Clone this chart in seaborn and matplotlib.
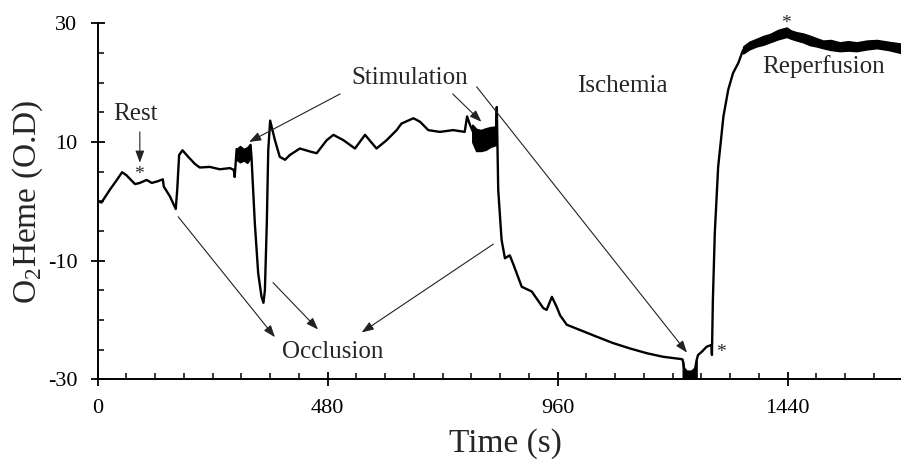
import matplotlib
matplotlib.use("Agg")
import matplotlib.pyplot as plt
import numpy as np
import pandas as pd
import seaborn as sns
from matplotlib.ticker import MultipleLocator

# main trace (time in s, O2Heme in O.D)
TIME = [0, 8, 25, 40, 51, 60, 78, 88, 102, 113, 126, 136, 138, 151, 163, 166,
        170, 177, 189, 203, 213, 234, 255, 276, 284, 286, 290, 297, 307, 319,
        321, 328, 335, 342, 346, 349, 353, 356, 360, 370, 380, 391, 401, 422,
        443, 457, 478, 492, 513, 537, 558, 582, 603, 624, 634, 659, 673, 690,
        714, 742, 766, 771, 777, 790, 805, 820, 831, 833, 836, 843, 850, 860,
        867, 885, 906, 930, 937, 948, 958, 965, 979, 1007, 1041, 1076, 1111,
        1146, 1180, 1219, 1221, 1224, 1230, 1240, 1247, 1250, 1253, 1261, 1271,
        1281, 1282, 1284, 1288, 1295, 1306, 1316, 1326, 1337, 1347, 1375, 1403,
        1438, 1459, 1487, 1514, 1549, 1584, 1626, 1676]
HEME = [0.0, -0.2, 1.9, 3.6, 4.9, 4.4, 2.9, 3.1, 3.6, 3.1, 3.4, 3.7, 2.5, 0.8,
        -1.3, 1.9, 7.8, 8.6, 7.5, 6.3, 5.7, 5.8, 5.4, 5.6, 5.3, 4.1, 8.8, 7.8,
        7.3, 9.5, 7.5, -3.7, -12.1, -16.1, -17.1, -15.0, -3.7, 8.6, 13.6, 10.3,
        7.5, 7.0, 7.8, 8.9, 8.4, 8.1, 10.3, 11.2, 10.3, 8.9, 11.2, 8.9, 10.3,
        12.0, 13.1, 14.0, 13.4, 12.0, 11.7, 12.0, 11.7, 14.3, 12.9, 10.5, 10.3,
        10.8, 11.0, 15.9, 1.9, -6.5, -9.6, -9.1, -10.5, -14.4, -15.2, -18.0,
        -18.3, -16.1, -17.8, -19.2, -20.8, -21.7, -22.8, -23.9, -24.8, -25.6,
        -26.2, -26.6, -26.7, -28.2, -28.7, -28.7, -28.2, -26.8, -25.9, -25.35,
        -24.5, -24.2, -25.9, -16.6, -5.3, 5.8, 14.3, 18.8, 21.6, 23.3, 25.5,
        26.8, 27.6, 28.6, 27.9, 27.2, 26.5, 26.0, 26.0, 26.6, 25.8]

# noisy envelopes (upper / lower edge of the thick trace)
STIM1_T = [290, 297, 305, 312, 318]
STIM1_HI = [8.8, 9.3, 8.8, 9.1, 9.6]
STIM1_LO = [7.0, 6.6, 6.9, 6.5, 7.2]

STIM2_T = [782, 790, 800, 810, 820, 831]
STIM2_HI = [12.9, 12.2, 12.0, 12.3, 12.5, 12.6]
STIM2_LO = [10.0, 8.5, 8.5, 8.7, 9.2, 9.5]

ISCH_T = [1221, 1224, 1230, 1240, 1247, 1250]
ISCH_HI = [-26.7, -28.2, -28.7, -28.7, -28.2, -26.8]

REPERF_T = [1347, 1360, 1375, 1390, 1403, 1420, 1438, 1447, 1459, 1472, 1487,
            1500, 1514, 1530, 1549, 1566, 1584, 1605, 1626, 1650, 1676]
REPERF_HI = [26.1, 26.9, 27.4, 27.9, 28.2, 28.9, 29.3, 28.8, 28.5, 28.3, 27.9,
             27.5, 27.1, 27.2, 26.8, 27.0, 26.8, 27.1, 27.2, 26.9, 26.6]
REPERF_LO = [24.9, 25.6, 26.1, 26.4, 26.8, 27.3, 27.7, 27.4, 27.1, 26.8, 26.3,
             26.1, 25.8, 25.5, 25.3, 25.4, 25.3, 25.6, 25.8, 25.5, 25.0]

X_TICKS = [0, 480, 960, 1440]
Y_TICKS = [-30, -10, 10, 30]

# phase labels: (text, time, value)
LABELS = [("Rest", 78, 14.7), ("Stimulation", 652, 20.8), ("Ischemia", 1094, 19.4),
          ("Reperfusion", 1514, 22.8), ("Occlusion", 491, -25.4)]
# arrows: (tail time, tail value, head time, head value)
ARROWS = [(88, 11.7, 88, 6.5),
          (506, 18.1, 316, 10.0), (741, 18.1, 801, 13.4), (791, 19.3, 1230, -25.5),
          (168, -2.6, 370, -22.9), (366, -13.7, 460, -21.6), (826, -7.2, 551, -22.1)]
STARS = [(87, 4.5), (1436, 29.9), (1301, -25.4)]

sns.set_style("ticks")
plt.rcParams["font.family"] = ["Liberation Serif", "DejaVu Serif"]
plt.rcParams["mathtext.fontset"] = "custom"
plt.rcParams["mathtext.rm"] = "Liberation Serif"
plt.rcParams["axes.unicode_minus"] = False

fig = plt.figure(figsize=(9.01, 4.59), dpi=100)
ax = fig.add_axes([0.1084, 0.1736, 0.8934, 0.7756])

trace = pd.DataFrame({"time": TIME, "heme": HEME})
sns.lineplot(data=trace, x="time", y="heme", sort=False, estimator=None,
             color="black", lw=1.7, ax=ax)
ax.fill_between(STIM1_T, STIM1_LO, STIM1_HI, color="black", lw=1.2)
ax.fill_between(STIM2_T, STIM2_LO, STIM2_HI, color="black", lw=1.2)
ax.fill_between(ISCH_T, -30, ISCH_HI, color="black", lw=1.0)
ax.fill_between(REPERF_T, REPERF_LO, REPERF_HI, color="black", lw=1.0)

for x0, y0, x1, y1 in ARROWS:
    ax.annotate("", xy=(x1, y1), xytext=(x0, y0),
                arrowprops=dict(arrowstyle="-|>,head_length=0.6,head_width=0.22",
                                color="#222222", lw=0.8, mutation_scale=12,
                                shrinkA=0, shrinkB=0))
for text, x, y in LABELS:
    ax.text(x, y, text, ha="center", va="center", fontsize=18)
for x, y in STARS:
    ax.text(x, y, "*", ha="center", va="center", fontsize=14, clip_on=False)

ax.set_xlim(0, 1680)
ax.set_ylim(-30, 30)
ax.set_xticks(X_TICKS)
ax.set_yticks(Y_TICKS)
ax.xaxis.set_minor_locator(MultipleLocator(60))
ax.yaxis.set_minor_locator(MultipleLocator(5))
ax.tick_params(which="major", direction="inout", length=10, width=1.3,
               labelsize=16, pad=9.5, color="black", labelcolor="black")
ax.tick_params(which="minor", direction="in", length=4, width=1.1, color="black")
for side in ("top", "right"):
    ax.spines[side].set_visible(False)
for side in ("left", "bottom"):
    ax.spines[side].set_linewidth(1.4)
    ax.spines[side].set_color("black")

ax.set_xlabel("Time (s)", fontsize=24)
ax.set_ylabel(r"O$_\mathrm{2}$Heme (O.D)", fontsize=24)
ax.xaxis.set_label_coords(0.507, -0.137)
ax.yaxis.set_label_coords(-0.066, 0.5)

fig.savefig("out.png", dpi=100)
